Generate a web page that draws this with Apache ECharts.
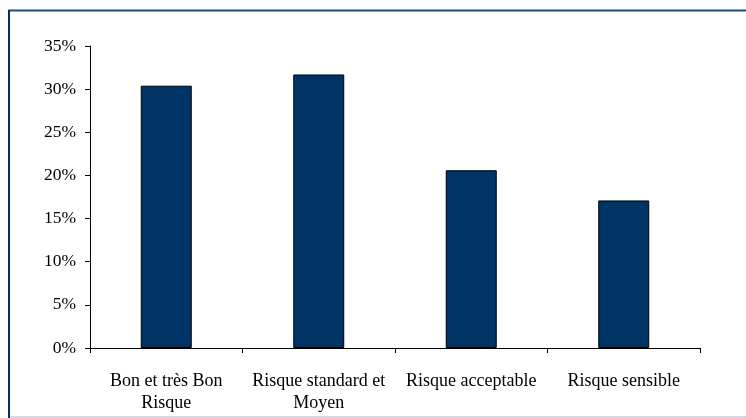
<!DOCTYPE html>
<html><head><meta charset="utf-8">
<script src="https://cdn.jsdelivr.net/npm/echarts@6/dist/echarts.min.js"></script>
<style>html,body{margin:0;padding:0;background:#fff}#c{width:746px;height:418px}</style>
</head><body><div id="c"></div>
<script>
const categories = ["Bon et très Bon\nRisque", "Risque standard et\nMoyen", "Risque acceptable", "Risque sensible"];
const values = [30.4, 31.7, 20.6, 17.1];
const yTicks = [0, 5, 10, 15, 20, 25, 30, 35];

const chart = echarts.init(document.getElementById('c'), null, {renderer: 'canvas'});
chart.setOption({
  animation: false,
  backgroundColor: '#fff',
  grid: {left: 90, right: 46, top: 46, bottom: 70, containLabel: false},
  xAxis: {
    type: 'category', data: categories,
    axisLine: {lineStyle: {color: '#000', width: 1}},
    axisTick: {show: true, alignWithLabel: false, length: 5, lineStyle: {color: '#000'}},
    axisLabel: {color: '#000', fontFamily: 'Liberation Serif', fontSize: 18, lineHeight: 22, margin: 22, interval: 0}
  },
  yAxis: {
    type: 'value', min: yTicks[0], max: yTicks[yTicks.length-1], interval: 5,
    axisLine: {show: true, lineStyle: {color: '#000', width: 1}},
    axisTick: {show: true, length: 5, lineStyle: {color: '#000'}},
    splitLine: {show: false},
    axisLabel: {color: '#000', fontFamily: 'Liberation Serif', fontSize: 17.5, margin: 14, formatter: v => v + '%'}
  },
  series: [{
    type: 'bar', data: values, barWidth: 51,
    itemStyle: {color: '#003366', borderColor: '#000', borderWidth: 1}
  }],
  graphic: [
    {type: 'line', shape: {x1: 8, y1: 10.5, x2: 746, y2: 10.5}, style: {stroke: '#1f4e79', lineWidth: 2}},
    {type: 'line', shape: {x1: 9, y1: 10, x2: 9, y2: 418}, style: {stroke: '#003366', lineWidth: 2}},
    {type: 'line', shape: {x1: 10, y1: 417, x2: 746, y2: 417}, style: {stroke: '#c8ccd2', lineWidth: 1.5}}
  ]
});
</script></body></html>
